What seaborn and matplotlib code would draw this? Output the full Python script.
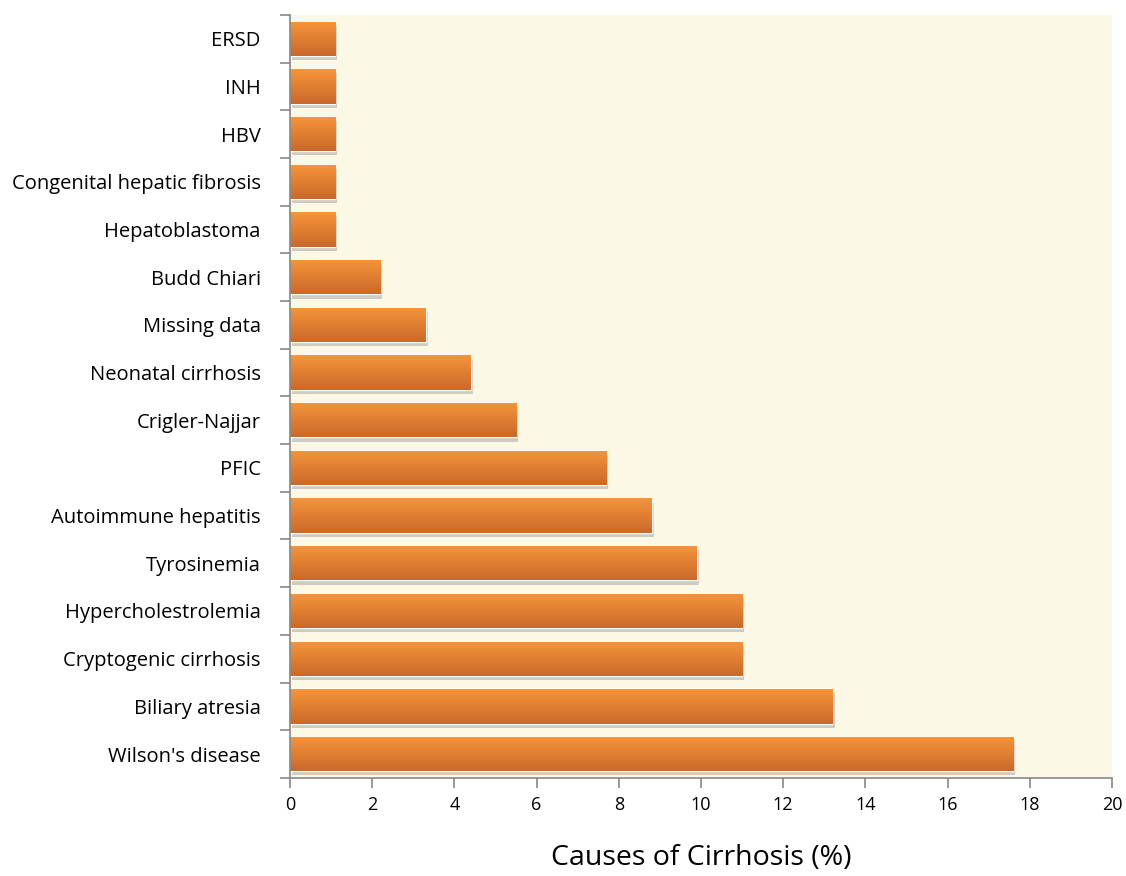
import numpy as np
import pandas as pd
import matplotlib
matplotlib.use("Agg")
import matplotlib.pyplot as plt
import matplotlib.patheffects as pe
import seaborn as sns

causes = ["ERSD", "INH", "HBV", "Congenital hepatic fibrosis", "Hepatoblastoma",
          "Budd Chiari", "Missing data", "Neonatal cirrhosis", "Crigler-Najjar", "PFIC",
          "Autoimmune hepatitis", "Tyrosinemia", "Hypercholestrolemia",
          "Cryptogenic cirrhosis", "Biliary atresia", "Wilson's disease"]
percent = [1.1, 1.1, 1.1, 1.1, 1.1, 2.2, 3.3, 4.4, 5.5, 7.7, 8.8, 9.9, 11.0, 11.0, 13.2, 17.6]

df = pd.DataFrame({"cause": causes, "pct": percent})

sns.set_style("ticks")
plt.rcParams["font.family"] = ["Open Sans", "DejaVu Sans"]

fig = plt.figure(figsize=(11.26, 8.76), dpi=100)
ax = fig.add_axes([0.2575, 0.112, 0.73, 0.871])
ax.set_facecolor("#FCF8E6")

sns.barplot(data=df, x="pct", y="cause", order=causes, color="#E9812F",
            width=0.72, saturation=1, ax=ax)

# gradient fill + drop shadow on each bar
grad = np.linspace(0, 1, 256).reshape(-1, 1)
cmap = matplotlib.colors.LinearSegmentedColormap.from_list("og", ["#F7953A", "#C9692B"])
for p in ax.patches:
    p.set_path_effects([pe.SimplePatchShadow(offset=(1.5, -3), shadow_rgbFace="#A0A0A0", alpha=0.5),
                        pe.Normal()])
    x0, y0 = p.get_x(), p.get_y()
    w, h = p.get_width(), p.get_height()
    im = ax.imshow(grad, cmap=cmap, aspect="auto", extent=[x0, x0 + w, y0, y0 + h],
                   origin="lower", zorder=p.get_zorder() + 0.1)
    im.set_clip_path(p)

ax.set_xlim(0, 20)
ax.set_ylim(len(causes) - 0.5, -0.5)
ax.set_xticks(range(0, 21, 2))
ax.set_yticks(np.arange(-0.5, len(causes), 1), minor=True)
ax.tick_params(axis="y", which="major", length=0, labelsize=14.5, pad=21, labelcolor="black")
ax.tick_params(axis="y", which="minor", length=7, color="#888888", width=1.2)
ax.tick_params(axis="x", length=7, color="#888888", width=1.2, labelsize=13, pad=6,
               labelcolor="black")
for s in ["top", "right"]:
    ax.spines[s].set_visible(False)
for s in ["left", "bottom"]:
    ax.spines[s].set_color("#888888")
    ax.spines[s].set_linewidth(1.2)

ax.set_ylabel("")
ax.set_xlabel("Causes of Cirrhosis (%)", fontsize=20.5, labelpad=22, color="black")

fig.savefig("out.png", dpi=100)
